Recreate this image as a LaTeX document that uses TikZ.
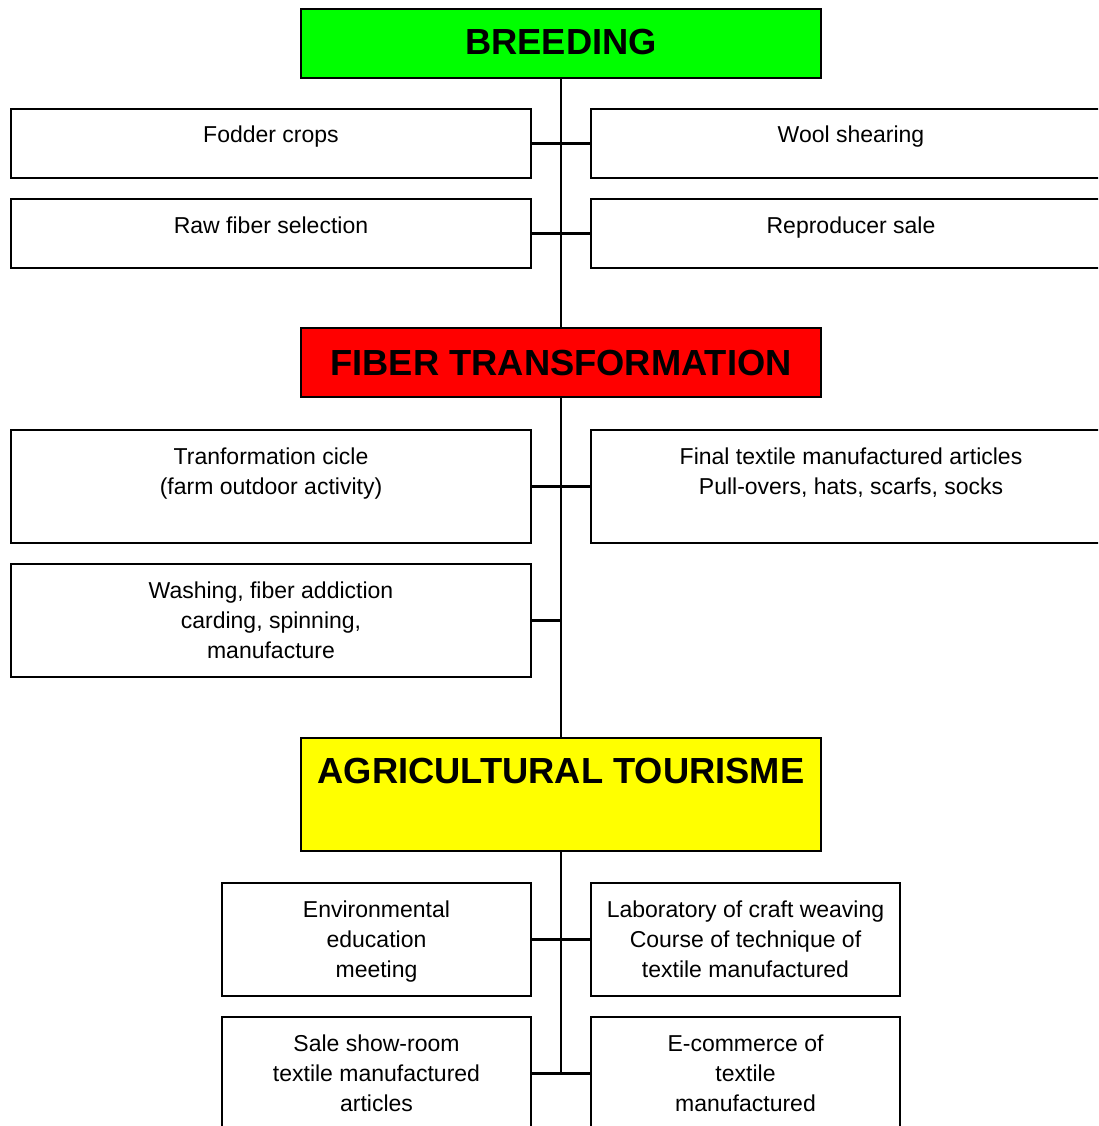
\documentclass[tikz,border=0pt]{standalone}
\usepackage{fontspec}
\setmainfont{Liberation Sans}
\begin{document}
\begin{tikzpicture}[x=1pt,y=-1pt,
  box/.style={draw,line width=2.4pt,rectangle,inner sep=0pt,outer sep=0pt,anchor=north west},
  wide/.style={box,minimum width=520pt},
  narrow/.style={box,minimum width=309pt},
  short/.style={minimum height=69pt},
  tall/.style={minimum height=113pt},
  txt/.style={anchor=base,align=center,font=\fontsize{23}{30}\selectfont,inner sep=0pt},
  ttl/.style={anchor=base,font=\fontsize{36.3}{40}\selectfont\bfseries,inner sep=0pt},
  conn/.style={line width=2.4pt}]
\useasboundingbox (0,0) rectangle (1098,1126);
\clip (0,0) rectangle (1098,1126);
% main boxes
\node[wide,short,fill={rgb,255:red,0;green,255;blue,0}] (breed) at (301,9) {};
\node[wide,short,fill={rgb,255:red,255;green,0;blue,0}] (fiber) at (301,328) {};
\node[wide,tall,fill={rgb,255:red,255;green,255;blue,0}] (agri) at (301,738) {};
\node[ttl] (tbreed) at (561,55) {BREEDING};
\node[ttl] (tfiber) at (561,375) {FIBER TRANSFORMATION};
\node[ttl] (tagri) at (561,783) {AGRICULTURAL TOURISME};
% breeding row
\node[wide,short] (fodder) at (11,109) {};
\node[wide,short] (wool) at (591,109) {};
\node[wide,short] (raw) at (11,199) {};
\node[wide,short] (repro) at (591,199) {};
\node[txt] (tfodder) at (271,143) {Fodder crops};
\node[txt] (twool) at (851,143) {Wool shearing};
\node[txt] (traw) at (271,233) {Raw fiber selection};
\node[txt] (trepro) at (851,233) {Reproducer sale};
% fiber row
\node[wide,tall] (cicle) at (11,430) {};
\node[wide,tall] (final) at (591,430) {};
\node[wide,tall] (wash) at (11,564) {};
\node[txt] (tcicle) at (271,494) {Tranformation cicle\\(farm outdoor activity)};
\node[txt] (tfinal) at (851,494) {Final textile manufactured articles\\Pull-overs, hats, scarfs, socks};
\node[txt] (twash) at (271,658) {Washing, fiber addiction\\carding, spinning,\\manufacture};
% tourism row
\node[narrow,tall] (env) at (222,883) {};
\node[narrow,tall] (lab) at (591,883) {};
\node[narrow,tall] (sale) at (222,1017) {};
\node[narrow,tall] (ecom) at (591,1017) {};
\node[txt] (tenv) at (376.5,977) {Environmental\\education\\meeting};
\node[txt] (tlab) at (745.5,977) {Laboratory of craft weaving\\Course of technique of\\textile manufactured};
\node[txt] (tsale) at (376.5,1111) {Sale show-room\\textile manufactured\\articles};
\node[txt] (tecom) at (745.5,1111) {E-commerce of\\textile\\manufactured};
% connectors
\coordinate (jwash) at (wash.east -| breed.south);
\coordinate (jend) at (sale.east -| breed.south);
\draw[conn] (breed.south) -- (fiber.north);
\draw[conn] (fiber.south) -- (agri.north);
\draw[conn] (agri.south) -- (jend);
\draw[conn] (fodder.east) -- (wool.west);
\draw[conn] (raw.east) -- (repro.west);
\draw[conn] (cicle.east) -- (final.west);
\draw[conn] (wash.east) -- (jwash);
\draw[conn] (env.east) -- (lab.west);
\draw[conn] (sale.east) -- (ecom.west);
\end{tikzpicture}
\end{document}
